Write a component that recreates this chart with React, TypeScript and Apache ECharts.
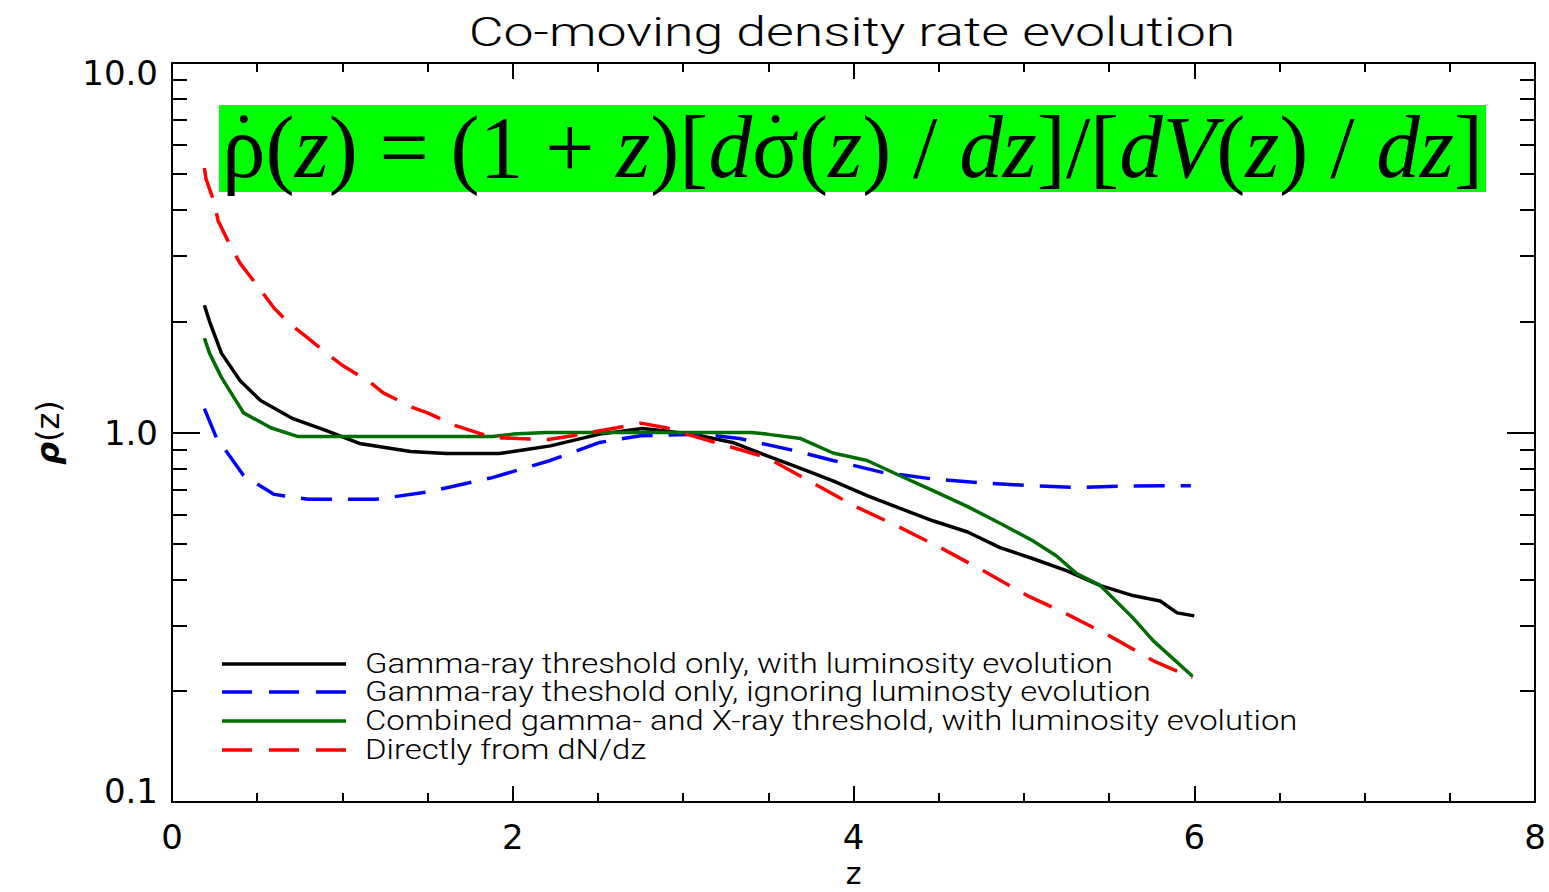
import React, { useEffect, useRef } from 'react';
import * as echarts from 'echarts';

// ---- data ----
const seriesNames = [
  'Gamma-ray threshold only, with luminosity evolution',
  'Gamma-ray theshold only, ignoring luminosty evolution',
  'Combined gamma- and X-ray threshold, with luminosity evolution',
  'Directly from dN/dz',
];

const gammaLumEvo: [number, number][] = [
  [0.19, 2.21], [0.22, 2.0], [0.29, 1.64], [0.40, 1.38], [0.52, 1.22], [0.71, 1.09],
  [0.91, 1.01], [1.10, 0.934], [1.40, 0.888], [1.61, 0.877], [1.92, 0.877], [2.08, 0.90],
  [2.22, 0.92], [2.51, 0.99], [2.76, 1.025], [2.90, 1.01], [3.10, 0.98], [3.29, 0.94],
  [3.49, 0.866], [3.69, 0.80], [3.88, 0.74], [4.08, 0.675], [4.27, 0.624], [4.47, 0.576],
  [4.67, 0.538], [4.86, 0.488], [5.05, 0.456], [5.25, 0.423], [5.45, 0.385], [5.64, 0.362],
  [5.80, 0.350], [5.90, 0.325], [6.0, 0.319],
];

const gammaNoLumEvo: [number, number][] = [
  [0.19, 1.16], [0.26, 0.97], [0.42, 0.765], [0.60, 0.68], [0.80, 0.66], [1.20, 0.66],
  [1.50, 0.69], [1.88, 0.755], [2.22, 0.84], [2.51, 0.94], [2.75, 0.98], [3.10, 0.99],
  [3.33, 0.963], [3.65, 0.894], [3.88, 0.84], [4.17, 0.78], [4.47, 0.748], [4.76, 0.73],
  [5.05, 0.718], [5.31, 0.71], [5.60, 0.716], [5.98, 0.718],
];

const combinedLumEvo: [number, number][] = [
  [0.19, 1.80], [0.22, 1.64], [0.29, 1.41], [0.42, 1.13], [0.58, 1.03], [0.74, 0.975],
  [1.0, 0.975], [1.5, 0.975], [1.88, 0.975], [2.0, 0.99], [2.2, 1.0], [2.5, 1.0],
  [3.0, 1.0], [3.4, 1.0], [3.49, 0.99], [3.69, 0.963], [3.88, 0.88], [4.08, 0.84],
  [4.27, 0.765], [4.47, 0.695], [4.67, 0.63], [4.86, 0.568], [5.05, 0.51], [5.19, 0.464],
  [5.31, 0.415], [5.45, 0.385], [5.64, 0.315], [5.76, 0.273], [5.99, 0.219],
];

const directDNdz: [number, number][] = [
  [0.19, 5.2], [0.20, 4.85], [0.25, 4.17], [0.27, 3.75], [0.35, 3.15], [0.40, 2.87],
  [0.52, 2.43], [0.60, 2.17], [0.69, 1.97], [0.78, 1.83], [0.92, 1.62], [1.00, 1.52],
  [1.16, 1.37], [1.24, 1.28], [1.41, 1.17], [1.50, 1.13], [1.66, 1.045], [1.76, 1.01],
  [1.88, 0.97], [2.03, 0.963], [2.21, 0.957], [2.35, 0.98], [2.61, 1.03], [2.75, 1.06],
  [2.90, 1.03], [3.02, 0.99], [3.21, 0.934], [3.49, 0.856], [3.74, 0.74], [4.0, 0.634],
  [4.25, 0.56], [4.51, 0.488], [4.76, 0.423], [5.02, 0.362], [5.25, 0.323], [5.50, 0.282],
  [5.76, 0.241], [5.99, 0.217],
];

const seriesColors = ['#000000', '#0000ff', '#006d00', '#ff0000'];
const seriesDashed = [false, true, false, true];

const yMinorTickValues = [0.2, 0.3, 0.4, 0.5, 0.6, 0.7, 0.8, 0.9, 2, 3, 4, 5, 6, 7, 8, 9];

const titleText = 'Co-moving density rate evolution';
const xAxisName = 'z';

// formula pieces: text, italic, dot above
const formulaParts: [string, boolean, boolean][] = [
  ['ρ', false, true], ['(', false, false], ['z', true, false], [')', false, false],
  [' = ', false, false], ['(1 + ', false, false], ['z', true, false], [')[', false, false],
  ['d', true, false], ['σ', false, true], ['(', false, false], ['z', true, false],
  [') / ', false, false], ['dz', true, false], [']/[', false, false], ['dV', true, false],
  ['(', false, false], ['z', true, false], [') / ', false, false], ['dz', true, false],
  [']', false, false],
];

export default function App() {
  const ref = useRef<HTMLDivElement>(null);

  useEffect(() => {
    const el = ref.current!;
    const chart = echarts.init(el, null, { renderer: 'svg' });

    const ctx = document.createElement('canvas').getContext('2d')!;
    const measure = (text: string, font: string) => {
      ctx.font = font;
      return ctx.measureText(text).width;
    };

    const axisColor = '#000';
    const axisLW = 2;
    const sansFont = 'DejaVu Sans';
    const thinFont = 'Roboto';

    // ---- formula box ----
    const boxX = 219, boxY = 105, boxW = 1267, boxH = 87;
    const fSize = 88;
    const fFont = (it: boolean) => `${it ? 'italic ' : ''}${fSize}px "Liberation Serif"`;
    const widths = formulaParts.map(([t, it]) => measure(t, fFont(it)));
    const totalW = widths.reduce((a, b) => a + b, 0);
    const fStart = boxX + 3;
    const fScale = (boxW - 6) / totalW;
    const formulaChildren: any[] = [];
    const dots: any[] = [];
    let cx = 0;
    formulaParts.forEach(([t, it, dot], i) => {
      formulaChildren.push({
        type: 'text',
        x: cx,
        y: 147,
        z: 100,
        style: {
          text: t,
          fontFamily: 'Liberation Serif',
          fontStyle: it ? 'italic' : 'normal',
          fontSize: fSize,
          fill: '#000',
          align: 'left',
          verticalAlign: 'middle',
        },
      });
      if (dot) {
        dots.push({
          type: 'circle',
          shape: { cx: fStart + (cx + widths[i] / 2) * fScale, cy: 119, r: 4 },
          style: { fill: '#000' },
          z: 101,
        });
      }
      cx += widths[i];
    });

    // ---- title ----
    const titleSize = 40;
    const titleW = measure(titleText, `300 ${titleSize}px "${thinFont}"`);
    const titleScale = 767 / titleW;

    // ---- legend ----
    const legSize = 27;
    const legW = measure(seriesNames[0], `300 ${legSize}px "${thinFont}"`);
    const legScale = 748 / legW;
    const legRows = [664, 692, 721, 750];
    const legendEls: any[] = [];
    seriesNames.forEach((name, i) => {
      legendEls.push({
        type: 'line',
        shape: { x1: 222, y1: legRows[i], x2: 346, y2: legRows[i] },
        style: {
          stroke: seriesColors[i],
          lineWidth: 3.5,
          lineDash: seriesDashed[i] ? [30, 17] : null,
        },
        z: 100,
      });
      legendEls.push({
        type: 'text',
        x: 365,
        y: legRows[i],
        scaleX: legScale,
        style: {
          text: name,
          fontFamily: thinFont,
          fontWeight: 300,
          fontSize: legSize,
          fill: '#000',
          align: 'left',
          verticalAlign: 'middle',
        },
        z: 100,
      });
    });

    const data = [gammaLumEvo, gammaNoLumEvo, combinedLumEvo, directDNdz];

    const gridRect = { left: 172, right: 14, top: 63, bottom: 90, containLabel: false, outerBoundsMode: 'none' };

    const xAxisBase = {
      type: 'value',
      min: 0,
      max: 8,
      interval: 2,
      axisLine: { show: true, onZero: false, lineStyle: { color: axisColor, width: axisLW } },
      axisTick: { show: true, inside: true, length: 16, lineStyle: { color: axisColor, width: axisLW } },
      minorTick: { show: true, splitNumber: 4, length: 9, lineStyle: { color: axisColor, width: axisLW } },
      splitLine: { show: false },
      minorSplitLine: { show: false },
    };

    const logAxisBase = {
      type: 'log',
      logBase: 10,
      min: 0.1,
      max: 10,
      gridIndex: 0,
      axisLine: { show: true, onZero: false, lineStyle: { color: axisColor, width: axisLW } },
      axisTick: { show: true, inside: true, length: 28, lineStyle: { color: axisColor, width: axisLW } },
      minorTick: { show: false },
      splitLine: { show: false },
    };

    const minorAxisBase = {
      type: 'value',
      min: -1,
      max: 1,
      gridIndex: 1,
      axisLine: { show: false },
      axisLabel: { show: false },
      splitLine: { show: false },
      axisTick: {
        show: true,
        inside: true,
        length: 15,
        customValues: yMinorTickValues.map((v) => Math.log10(v)),
        lineStyle: { color: axisColor, width: axisLW },
      },
    };

    const option: any = {
      animation: false,
      backgroundColor: '#ffffff',
      grid: [{ ...gridRect }, { ...gridRect }],
      xAxis: [
        {
          ...xAxisBase,
          gridIndex: 0,
          position: 'bottom',
          name: xAxisName,
          nameLocation: 'middle',
          nameGap: 50,
          nameTextStyle: { fontFamily: sansFont, fontSize: 30, color: '#000' },
          axisLabel: { show: true, fontFamily: sansFont, fontSize: 34, color: '#000', margin: 18 },
        },
        {
          ...xAxisBase,
          gridIndex: 0,
          position: 'top',
          axisLabel: { show: false },
        },
        {
          type: 'value',
          gridIndex: 1,
          min: 0,
          max: 8,
          show: false,
        },
      ],
      yAxis: [
        {
          ...logAxisBase,
          position: 'left',
          name: '{r|ρ}(z)',
          nameLocation: 'middle',
          nameGap: 108,
          nameTextStyle: {
            fontFamily: sansFont,
            fontSize: 32,
            color: '#000',
            rich: { r: { fontFamily: sansFont, fontSize: 32, fontStyle: 'italic', fontWeight: 'bold', color: '#000' } },
          },
          axisLabel: {
            show: true,
            fontFamily: sansFont,
            fontSize: 34,
            color: '#000',
            margin: 14,
            formatter: (v: number) => {
              const s = v.toFixed(1);
              if (v >= 9.99) return `{hi|${s}}`;
              if (v <= 0.101) return `{lo|${s}}`;
              return s;
            },
            rich: {
              hi: { fontFamily: sansFont, fontSize: 34, color: '#000', padding: [20, 0, 0, 0] },
              lo: { fontFamily: sansFont, fontSize: 34, color: '#000', padding: [0, 0, 22, 0] },
            },
          },
        },
        {
          ...logAxisBase,
          position: 'right',
          axisLabel: { show: false },
        },
        { ...minorAxisBase, position: 'left' },
        { ...minorAxisBase, position: 'right' },
      ],
      series: data.map((d, i) => ({
        name: seriesNames[i],
        type: 'line',
        xAxisIndex: 0,
        yAxisIndex: 0,
        data: d,
        showSymbol: false,
        symbol: 'none',
        smooth: false,
        lineStyle: {
          color: seriesColors[i],
          width: 3.5,
          type: seriesDashed[i] ? [31, 16] : 'solid',
        },
        itemStyle: { color: seriesColors[i] },
        z: 3,
      })),
      graphic: [
        {
          type: 'text',
          x: 852,
          y: 32,
          scaleX: titleScale,
          style: {
            text: titleText,
            fontFamily: thinFont,
            fontWeight: 300,
            fontSize: titleSize,
            fill: '#000',
            align: 'center',
            verticalAlign: 'middle',
          },
          z: 100,
        },
        {
          type: 'rect',
          shape: { x: boxX, y: boxY, width: boxW, height: boxH },
          style: { fill: '#00ff00' },
          z: 99,
        },
        {
          type: 'group',
          x: fStart,
          y: 0,
          scaleX: fScale,
          children: formulaChildren,
          z: 100,
        },
        ...dots,
        ...legendEls,
      ],
    };

    chart.setOption(option);
    return () => chart.dispose();
  }, []);

  return (
    <div
      ref={ref}
      style={{ position: 'absolute', left: 0, top: 0, width: 1549, height: 892, background: '#fff' }}
    />
  );
}
